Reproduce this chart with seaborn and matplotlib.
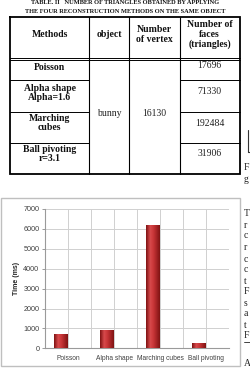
import numpy as np
import pandas as pd
import matplotlib
matplotlib.use("Agg")
import matplotlib.pyplot as plt
import seaborn as sns
from matplotlib.patches import Rectangle
from matplotlib.colors import LinearSegmentedColormap

# ---------------- data ----------------
title_lines = ["TABLE. II   NUMBER OF TRIANGLES OBTAINED BY APPLYING",
               "THE FOUR RECONSTRUCTION METHODS ON THE SAME OBJECT"]
table_headers = ["Methods", "object", "Number\nof vertex", "Number of\nfaces\n(triangles)"]
table_methods = ["Poisson", "Alpha shape\nAlpha=1.6", "Marching\ncubes", "Ball pivoting\nr=3.1"]
table_object = "bunny"
table_vertex = "16130"
table_faces = [17696, 71330, 192484, 31906]

chart_methods = ["Poisson", "Alpha shape", "Marching cubes", "Ball pivoting"]
time_ms = [720, 920, 6200, 280]
y_ticks = [0, 1000, 2000, 3000, 4000, 5000, 6000, 7000]
y_label = "Time (ms)"
side_letters = ["F", "g", "T", "r", "c", "r", "c", "c", "t", "F", "s", "a", "t", "F", "A"]

# ---------------- figure ----------------
sns.set_theme(style="white")
W, H = 250, 368
fig = plt.figure(figsize=(W / 100, H / 100), dpi=100)
fig.patch.set_facecolor("white")

bg = fig.add_axes([0, 0, 1, 1])
bg.set_xlim(0, W)
bg.set_ylim(H, 0)
bg.axis("off")

serif = ["Liberation Serif", "DejaVu Serif"]

# title
bg.text(125, 2.2, title_lines[0], ha="center", va="center", fontsize=4.6,
        fontweight="bold", family=serif, color="#111111")
bg.text(125, 11.3, title_lines[1], ha="center", va="center", fontsize=4.6,
        fontweight="bold", family=serif, color="#111111")

# table geometry (pixel layout)
tx0, tx1 = 10, 239.5
ty0, ty1 = 17, 174
cols = [10, 89, 129, 180, 239.5]
hdr_y = 58.5
rows = [hdr_y + 1.5, 80, 111.5, 143, ty1]

lw_out = 1.3
bg.plot([tx0, tx1, tx1, tx0, tx0], [ty0, ty0, ty1, ty1, ty0], color="black", lw=lw_out,
        solid_joinstyle="miter")
for cx in cols[1:-1]:
    bg.plot([cx, cx], [ty0, ty1], color="black", lw=0.8)
bg.plot([tx0, tx1], [hdr_y - 0.8, hdr_y - 0.8], color="black", lw=0.7)
bg.plot([tx0, tx1], [hdr_y + 1.5, hdr_y + 1.5], color="black", lw=0.7)
for ry in rows[1:-1]:
    bg.plot([cols[0], cols[1]], [ry, ry], color="black", lw=0.7)
    bg.plot([cols[3], cols[4]], [ry, ry], color="black", lw=0.7)

hdr_cx = [(cols[i] + cols[i + 1]) / 2 for i in range(4)]
for cx, t in zip(hdr_cx, table_headers):
    bg.text(cx, 34.5, t, ha="center", va="center", fontsize=7, fontweight="bold",
            family=serif, linespacing=1.15, color="#111111")

meth_y = [67, 93, 123, 154]
face_y = [66, 92, 123, 154]
for my, fy, m, f in zip(meth_y, face_y, table_methods, table_faces):
    bg.text(hdr_cx[0], my, m, ha="center", va="center", fontsize=7, fontweight="bold",
            family=serif, linespacing=1.1, color="#111111")
    bg.text(hdr_cx[3], fy, str(f), ha="center", va="center", fontsize=7,
            family=serif, color="#222222")
bg.text(hdr_cx[1], 114, table_object, ha="center", va="center", fontsize=7,
        family=serif, color="#222222")
bg.text(hdr_cx[2], 113.5, table_vertex, ha="center", va="center", fontsize=7,
        family=serif, color="#222222")

# fragments of neighbouring column
bg.plot([248, 248, 250], [130, 151.5, 151.5], color="#333333", lw=0.8)
side_y = [167, 179, 214, 225, 236, 247, 259, 270, 281, 292, 303, 314, 325, 336, 363]
for ly, ch in zip(side_y, side_letters):
    bg.text(244, ly, ch, ha="left", va="center", fontsize=7, family=serif, color="#222222")
bg.plot([244, 250], [341.5, 341.5], color="#222222", lw=0.6)

# chart frame
bg.add_patch(Rectangle((1, 198), 239, 168, fill=False, edgecolor="#BFBFBF", lw=1.0))

# ---------------- bar chart ----------------
px0, px1, py_top, py_bot = 45, 229, 209, 348.3
ax = fig.add_axes([px0 / W, 1 - py_bot / H, (px1 - px0) / W, (py_bot - py_top) / H])
ax.set_facecolor("none")

df = pd.DataFrame({
    "method": chart_methods * 2,
    "series": ["Time"] * 4 + ["pad"] * 4,
    "time": time_ms + [0] * 4,
})
sns.barplot(data=df, x="method", y="time", hue="series", order=chart_methods,
            hue_order=["Time", "pad"], palette=["#C22A2C", "#FFFFFF"], width=0.6,
            dodge=True, errorbar=None, legend=False, linewidth=0, ax=ax, zorder=3)

cmap = LinearSegmentedColormap.from_list(
    "cyl", [(0, "#7E1212"), (0.3, "#D84A4C"), (0.55, "#C63436"), (1, "#801313")])
grad = np.linspace(0, 1, 64).reshape(1, -1)
for p in list(ax.patches):
    h = p.get_height()
    if not np.isfinite(h) or h <= 0:
        continue
    x0, y0, w = p.get_x(), p.get_y(), p.get_width()
    im = ax.imshow(grad, extent=[x0, x0 + w, y0, y0 + h], aspect="auto", cmap=cmap,
                   zorder=3.5, interpolation="bilinear")
    im.set_clip_path(p)

ax.set_xlim(-0.5, 3.5)
ax.set_ylim(0, 7000)
ax.set_yticks(y_ticks)
ax.set_yticklabels([str(v) for v in y_ticks])
ax.set_xticks(range(4))
ax.set_xticklabels(chart_methods)
ax.set_xticks(np.arange(-0.5, 4, 1.0), minor=True)

ax.grid(True, axis="y", color="#D0D0D0", lw=0.7, zorder=0)
ax.grid(True, axis="x", which="both", color="#D0D0D0", lw=0.7, zorder=0)
ax.set_axisbelow(True)
for s in ["top", "right"]:
    ax.spines[s].set_visible(False)
for s in ["left", "bottom"]:
    ax.spines[s].set_color("#9A9A9A")
    ax.spines[s].set_linewidth(0.8)

narrow = ["Liberation Sans Narrow", "Liberation Sans", "DejaVu Sans"]
ax.tick_params(axis="x", which="major", length=0, pad=4.5, labelsize=4.8, labelcolor="#404040")
ax.tick_params(axis="x", which="minor", length=2, width=0.7, color="#9A9A9A", direction="out")
ax.tick_params(axis="y", length=2, width=0.7, color="#9A9A9A", pad=2, labelsize=5.2,
               labelcolor="#404040", left=True)
for lab in ax.get_xticklabels() + ax.get_yticklabels():
    lab.set_family(narrow)

ax.set_xlabel("")
ax.set_ylabel(y_label, fontsize=5, fontweight="bold", family=["Liberation Sans", "DejaVu Sans"],
              color="#262626")
ax.yaxis.set_label_coords((20 - px0) / (px1 - px0), 0.5)

fig.savefig("out.png", dpi=100, facecolor="white")
